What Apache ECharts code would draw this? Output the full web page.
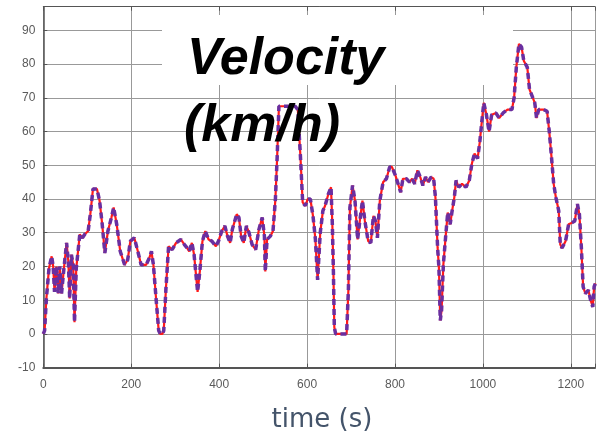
<!DOCTYPE html>
<html><head><meta charset="utf-8">
<script src="https://cdn.jsdelivr.net/npm/echarts@6/dist/echarts.min.js"></script>
<style>html,body{margin:0;padding:0;background:#fff}#c{width:598px;height:441px}</style>
</head><body><div id="c"></div>
<script>
const timeS = [0,3,7,13,19,22.5,25.5,30,34,37.5,41.5,47,53,57,60,64,68,71,75,83,89,94,102,107,113,122,128,134,140,147,155,160,167,175,185,192,198,207,215,222.5,234,241,246,250.5,256.5,262.5,266,271,274,279,285,293,302,313,321,327,332,338,343,351,356,362,368.5,376,383.5,392.5,398.5,406,413,419,425,430,440,445,450,456,462,468,475,483,490.5,498,503,505,509,516.5,522.5,528,532,536,547,573,579,585,590,596,601.5,607.5,613.5,619,624,630,636,641,648.5,654.5,657.5,660,662,665,690,694,697.5,703.5,709,715,720,726,731.5,739,745,751,755.5,760,765.5,773,780.5,788,793,801,807,813,818,826,833,839,845,851,857.5,863.5,869.5,875,882.5,888,892,897,900,903,906,910,915,920,925.5,930,935,939,945,952.5,961.5,969,975,981,988,993,998,1002,1008,1014,1020,1029.5,1037,1046,1056,1066,1071,1076,1082,1088,1093,1101,1106,1112,1118,1122,1127,1138,1146,1151,1156,1161,1166,1172.5,1176,1180,1188,1195,1203,1209,1215,1219.5,1224,1228,1233,1240,1245,1250,1253,1256];
const velocity = [0,1,10.5,19.5,23,20,12.5,20,12,20,12,19.5,27,21.5,10.5,23.5,20.5,3.5,19.5,29.5,28.5,29.5,30.5,35.5,43,43,39.5,32.5,24,30.5,34.5,37.5,32.5,24.5,20.5,22,27.5,28.5,24.5,20.5,20.5,22.5,24.5,20.5,10.5,1,0,0,1,13.5,26,25,27,28,26.5,25.5,24.5,27,23.5,12.5,18.5,27.5,30.5,28,27.5,26,27.5,30.5,32,29,27,31,35.5,34.5,29,27,32,30,26.5,25,31,34.5,29,18.5,28,29,30.5,40,52.5,67.5,67.5,67.5,66.5,52.5,39,38,40,40,35,28,16,30,36.5,38,41.5,43.5,32.5,18,2,0,0,13,37.5,44,39.5,28,33.5,39.5,33.5,27.5,27,35,33.5,28.5,39.5,45,46,49.5,49.5,47,44.5,42,46,46,45,46,44.5,48.5,46.5,44,46.5,45,46.5,46,40.5,25.5,19.5,4,7,20.5,28.5,36,32.5,36.5,40.5,45.5,43.5,44.5,43.5,45.5,50.5,53.5,52,57,63.5,68.5,65,60,65,65.5,64,65.5,66.5,66.5,70,79,86,85,81,79,72.5,70.5,68.5,64,66.5,66.5,66,60,52.5,44.5,40.5,36.5,26.5,25.5,27.5,32.5,33,33.5,38.5,35.5,25.5,14,12,13,10,8,14,15];
const xTicks = [0,200,400,600,800,1000,1200];
const yTicks = [-10,0,10,20,30,40,50,60,70,80,90];
const titleLines = ['Velocity','(km/h)'];
const xName = 'time (s)';

const pts = timeS.map((t,i)=>[t,velocity[i]]);
const chart = echarts.init(document.getElementById('c'));
const lab = {color:'#5a5a5a',fontSize:12,fontFamily:'Liberation Sans, Arial, sans-serif'};
chart.setOption({
  animation:false,
  grid:{left:43.3,right:0,top:6.7,bottom:73.3},
  xAxis:[{type:'value',min:0,max:1255,interval:200,
    axisLine:{show:true,onZero:false,lineStyle:{color:'#555',width:2}},
    axisTick:{show:true,inside:true,length:4,lineStyle:{color:'#555'}},
    splitLine:{show:true,lineStyle:{color:'#999',width:1}},
    axisLabel:Object.assign({margin:11,formatter:v=>xTicks.includes(v)?String(v):''},lab)},
   {type:'value',position:'top',min:0,max:1255,interval:200,
    axisLine:{show:true,onZero:false,lineStyle:{color:'#555',width:1}},
    axisTick:{show:true,inside:true,length:4,lineStyle:{color:'#555'}},
    splitLine:{show:false},axisLabel:{show:false}}],
  yAxis:{type:'value',min:-10,max:97,interval:10,
    axisLine:{show:true,onZero:false,lineStyle:{color:'#555',width:1.5}},
    axisTick:{show:true,inside:true,length:4,lineStyle:{color:'#555'}},
    splitLine:{show:true,lineStyle:{color:'#999',width:1}},
    axisLabel:Object.assign({margin:8,formatter:v=>yTicks.includes(v)?String(v):''},lab)},
  series:[
    {type:'line',data:pts,showSymbol:false,lineStyle:{color:'#ff1a1a',width:2.2},z:2},
    {type:'line',data:pts,showSymbol:false,lineStyle:{color:'#6a2fa0',width:3.5,type:[6,4]},z:3}
  ],
  graphic:[
    {type:'rect',shape:{x:162,y:15,width:351,height:70},style:{fill:'#fff'},z:10},
    {type:'text',x:187,y:60,style:{text:titleLines[0],fill:'#000',font:'italic bold 52px "Liberation Sans", Arial, sans-serif',textAlign:'left',textVerticalAlign:'middle'},z:11},
    {type:'text',x:184,y:127,style:{text:titleLines[1],fill:'#000',font:'italic bold 52px "Liberation Sans", Arial, sans-serif',textAlign:'left',textVerticalAlign:'middle'},z:11},
    {type:'text',x:322,y:420,style:{text:xName,fill:'#44546a',font:'26px "DejaVu Sans", sans-serif',textAlign:'center',textVerticalAlign:'middle'},z:11}
  ]
});
</script></body></html>
